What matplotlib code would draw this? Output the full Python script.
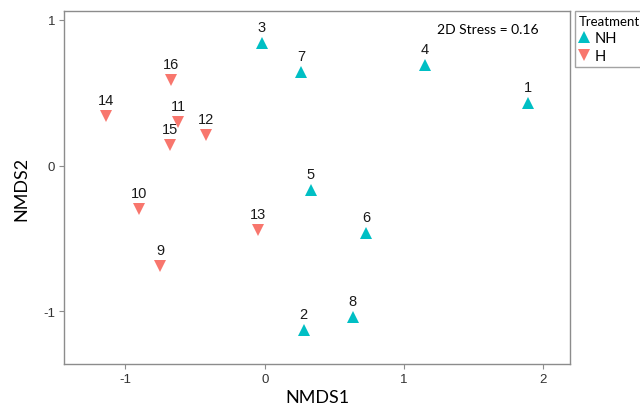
import matplotlib
matplotlib.use("Agg")
import matplotlib.pyplot as plt
from matplotlib.lines import Line2D

# NMDS scores per sample
sample_ids = ["1", "2", "3", "4", "5", "6", "7", "8",
              "9", "10", "11", "12", "13", "14", "15", "16"]
treatment = ["NH"] * 8 + ["H"] * 8
nmds1 = [1.89, 0.28, -0.02, 1.15, 0.33, 0.73, 0.26, 0.63,
         -0.75, -0.90, -0.62, -0.42, -0.05, -1.14, -0.68, -0.67]
nmds2 = [0.43, -1.13, 0.84, 0.69, -0.17, -0.46, 0.64, -1.04,
         -0.69, -0.30, 0.30, 0.21, -0.44, 0.34, 0.14, 0.59]
stress = 0.16

groups = ["NH", "H"]
colors = {"NH": "#00BFC4", "H": "#F8766D"}
markers = {"NH": "^", "H": "v"}

plt.rcParams["font.family"] = ["Liberation Sans", "DejaVu Sans"]
plt.rcParams["axes.unicode_minus"] = False

label_font = "Lato"
spine_gray = "#8c8c8c"

fig = plt.figure(figsize=(6.4, 4.06), dpi=100)
ax = fig.add_axes([0.1, 0.101, 0.7906, 0.8694])

for g in groups:
    xs = [x for x, t in zip(nmds1, treatment) if t == g]
    ys = [y for y, t in zip(nmds2, treatment) if t == g]
    ax.plot(xs, ys, linestyle="none", marker=markers[g], color=colors[g],
            markersize=8.5, markeredgewidth=0)

for sid, x, y in zip(sample_ids, nmds1, nmds2):
    ax.annotate(sid, (x, y), xytext=(0, 11.5), textcoords="offset points",
                ha="center", va="center", fontsize=10.5, color="#1a1a1a")

ax.set_xlim(-1.44, 2.19)
ax.set_ylim(-1.36, 1.06)
ax.set_xticks([-1, 0, 1, 2])
ax.set_yticks([-1, 0, 1])

for s in ax.spines.values():
    s.set_color(spine_gray)
    s.set_linewidth(1.0)
ax.tick_params(length=3.5, width=0.8, color=spine_gray, labelsize=9.5,
               labelcolor="#333333", pad=3)

ax.set_xlabel("NMDS1", family=label_font, fontsize=13, labelpad=3)
ax.set_ylabel("NMDS2", family=label_font, fontsize=13, labelpad=10)

ax.text(0.737, 0.949, f"2D Stress = {stress:.2f}", transform=ax.transAxes,
        family=label_font, fontsize=10, ha="left", va="center")

handles = [Line2D([], [], linestyle="none", marker=markers[g], color=colors[g],
                  markersize=8, markeredgewidth=0) for g in groups]
leg = fig.legend(handles, groups, title="Treatment", loc="upper left",
                 bbox_to_anchor=(575 / 640, 1 - 12 / 406),
                 prop={"family": label_font, "size": 10.5},
                 title_fontproperties={"family": label_font, "size": 9.5},
                 frameon=True, fancybox=False, borderpad=0.25,
                 handlelength=0.8, handletextpad=0.3, labelspacing=0.3,
                 borderaxespad=0)
leg._legend_box.align = "left"
leg.get_frame().set_edgecolor(spine_gray)
leg.get_frame().set_linewidth(1.0)

fig.savefig("out.png", dpi=100)
